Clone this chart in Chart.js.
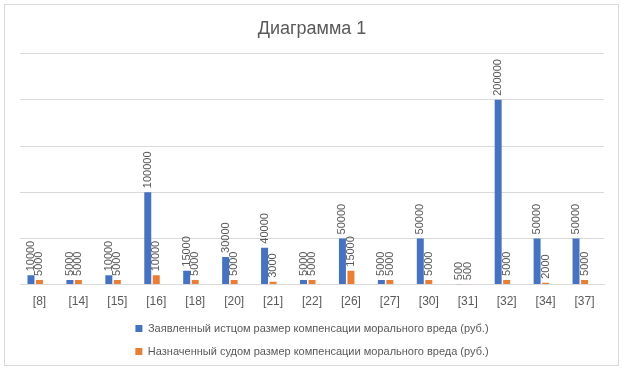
<!DOCTYPE html>
<html>
<head>
<meta charset="utf-8">
<script src="https://cdn.jsdelivr.net/npm/chart.js@4"></script>
<style>
html,body{margin:0;padding:0;background:#fff;}
#wrap{width:623px;height:369px;position:relative;}
</style>
</head>
<body>
<div id="wrap"><canvas id="c" width="623" height="369"></canvas></div>
<script>
const categories = ['[8]','[14]','[15]','[16]','[18]','[20]','[21]','[22]','[26]','[27]','[30]','[31]','[32]','[34]','[37]'];
const claimed = [10000,5000,10000,100000,15000,30000,40000,5000,50000,5000,50000,500,200000,50000,50000];
const awarded = [5000,5000,5000,10000,5000,5000,3000,5000,15000,5000,5000,500,5000,2000,5000];
const seriesNames = [
  'Заявленный истцом размер компенсации морального вреда (руб.)',
  'Назначенный судом размер компенсации морального вреда (руб.)'
];
const titleText = 'Диаграмма 1';

const FONT = "'Liberation Sans', Arial, sans-serif";
const TEXT = '#595959';

const bgBorder = {
  id: 'bgBorder',
  beforeDraw(chart) {
    const ctx = chart.ctx;
    ctx.save();
    ctx.fillStyle = '#fff';
    ctx.fillRect(0, 0, chart.width, chart.height);
    ctx.strokeStyle = '#d9d9d9';
    ctx.lineWidth = 1;
    ctx.strokeRect(4.5, 4.5, 614, 361);
    ctx.restore();
  }
};

const valueLabels = {
  id: 'valueLabels',
  afterDatasetsDraw(chart) {
    const ctx = chart.ctx;
    ctx.save();
    ctx.fillStyle = TEXT;
    ctx.font = "11px " + FONT;
    ctx.textAlign = 'left';
    ctx.textBaseline = 'middle';
    chart.data.datasets.forEach((ds, di) => {
      if (!ds.showLabels) return;
      const meta = chart.getDatasetMeta(di);
      meta.data.forEach((el, i) => {
        const v = ds.data[i];
        if (v == null) return;
        ctx.save();
        ctx.translate(el.x, el.y - 4);
        ctx.rotate(-Math.PI / 2);
        ctx.fillText(String(v), 0, 0);
        ctx.restore();
      });
    });
    ctx.restore();
  }
};

new Chart(document.getElementById('c'), {
  type: 'bar',
  data: {
    labels: categories,
    datasets: [
      { label: seriesNames[0], data: claimed, backgroundColor: '#4472C4', showLabels: true,
        categoryPercentage: 0.655, barPercentage: 0.82 },
      { label: seriesNames[1], data: awarded, backgroundColor: '#ED7D31', showLabels: true,
        categoryPercentage: 0.655, barPercentage: 0.82 },
      { label: '', data: [], backgroundColor: 'rgba(0,0,0,0)', showLabels: false,
        categoryPercentage: 0.655, barPercentage: 0.82 }
    ]
  },
  options: {
    responsive: false,
    animation: false,
    layout: { padding: { left: 20, right: 19, top: 0, bottom: 2 } },
    plugins: {
      title: {
        display: true, text: titleText, color: TEXT,
        font: { family: FONT, size: 18, weight: 'normal' },
        padding: { top: 18, bottom: 14 }
      },
      legend: {
        position: 'bottom',
        labels: {
          color: TEXT,
          font: { family: FONT, size: 11 },
          boxWidth: 7, boxHeight: 7, padding: 12,
          filter: (item) => item.text !== ''
        }
      },
      tooltip: { enabled: false }
    },
    scales: {
      x: {
        grid: { display: false },
        border: { display: true, color: '#d9d9d9' },
        ticks: { color: TEXT, font: { family: FONT, size: 12 }, padding: 2 }
      },
      y: {
        min: 0, max: 250000,
        ticks: { display: false, stepSize: 50000 },
        grid: { color: '#d9d9d9', drawTicks: false },
        border: { display: false }
      }
    }
  },
  plugins: [bgBorder, valueLabels]
});
</script>
</body>
</html>
